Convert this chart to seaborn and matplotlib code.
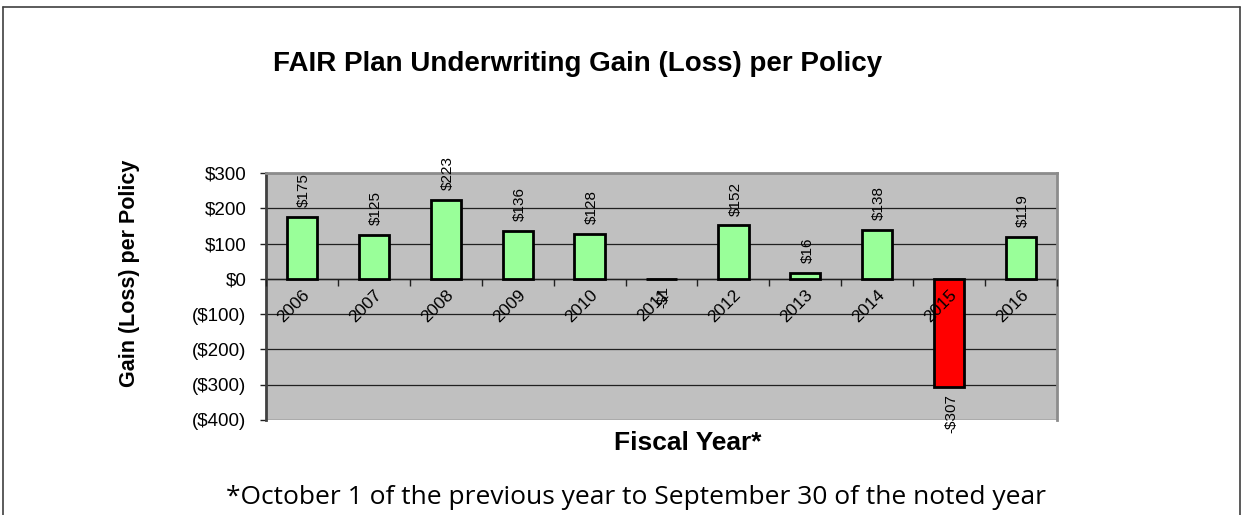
import matplotlib
matplotlib.use("Agg")
import matplotlib.pyplot as plt
from matplotlib.lines import Line2D
import seaborn as sns
import pandas as pd

years = ["2006", "2007", "2008", "2009", "2010", "2011", "2012", "2013", "2014", "2015", "2016"]
values = [175, 125, 223, 136, 128, -1, 152, 16, 138, -307, 119]
labels = ["$175", "$125", "$223", "$136", "$128", "-$1", "$152", "$16", "$138", "-$307", "$119"]
yticks = [300, 200, 100, 0, -100, -200, -300, -400]
ytick_labels = ["$300", "$200", "$100", "$0", "($100)", "($200)", "($300)", "($400)"]

sns.set_theme(style="white")
plt.rcParams['font.family'] = ['Liberation Sans', 'DejaVu Sans']
plt.rcParams['text.color'] = 'black'
plt.rcParams['xtick.color'] = 'black'
plt.rcParams['ytick.color'] = 'black'

df = pd.DataFrame({"year": years, "value": values})
pal = {y: ("#FF0000" if v < 0 else "#99FF99") for y, v in zip(years, values)}

fig = plt.figure(figsize=(12.44, 5.15), dpi=100)
ax = fig.add_axes([266/1244, 1-420/515, (1057-266)/1244, (420-173)/515])
ax.set_facecolor("#C0C0C0")

sns.barplot(data=df, x="year", y="value", hue="year", palette=pal, legend=False,
            saturation=1, width=0.42, edgecolor="black", linewidth=2, ax=ax, zorder=2)

ax.set_ylim(-400, 300)
ax.set_xlim(-0.5, len(years) - 0.5)
ax.set_yticks(yticks)
ax.set_yticklabels(ytick_labels, fontsize=13.5)
for y in yticks:
    ax.axhline(y, color="#202020", lw=0.9, zorder=1)

ax.spines['bottom'].set_position(('data', 0))
ax.spines['bottom'].set_color("#202020")
ax.spines['bottom'].set_linewidth(1)
ax.spines['bottom'].set_zorder(1.5)
ax.spines['left'].set_color("#404040")
ax.spines['left'].set_linewidth(2)
for s in ['top', 'right']:
    ax.spines[s].set_color("#8C8C8C")
    ax.spines[s].set_linewidth(2)

ax.tick_params(axis='y', length=4, width=1, color="#202020", pad=10, left=True)
ax.set_xticks([i + 0.5 for i in range(-1, len(years))], minor=True)
ax.tick_params(axis='x', which='minor', length=5, width=1, color="#202020", bottom=True)
ax.set_xticks(range(len(years)))
ax.tick_params(axis='x', which='major', length=0, pad=6, bottom=True)
ax.set_xticklabels(years, rotation=45, ha='right', rotation_mode='anchor', fontsize=12.5)
ax.xaxis.set_zorder(4)

ax.set_xlabel("")
ax.set_ylabel("")

for i, (v, lab) in enumerate(zip(values, labels)):
    if v >= 0:
        ax.annotate(lab, (i, v), xytext=(1.5, 7), textcoords="offset points",
                    rotation=90, ha='center', va='bottom', fontsize=11)
    else:
        ax.annotate(lab, (i, v), xytext=(1.5, -5), textcoords="offset points",
                    rotation=90, ha='center', va='top', fontsize=11, zorder=6)

fig.text(578/1244, 1-64/515, "FAIR Plan Underwriting Gain (Loss) per Policy",
         ha='center', va='center', fontsize=20, fontweight='bold')
fig.text(129/1244, 1-273/515, "Gain (Loss) per Policy", rotation=90,
         ha='center', va='center', fontsize=15.5, fontweight='bold')
fig.text(688/1244, 1-443/515, "Fiscal Year*", ha='center', va='center',
         fontsize=19, fontweight='bold')
fig.text(636/1244, 1-497/515, "*October 1 of the previous year to September 30 of the noted year",
         ha='center', va='center', fontsize=19, family=['Open Sans', 'DejaVu Sans'])

bc = "#404040"
fig.add_artist(Line2D([3/1244, 3/1244], [0, 1-7/515], transform=fig.transFigure, color=bc, lw=1.2))
fig.add_artist(Line2D([1240/1244, 1240/1244], [0, 1-7/515], transform=fig.transFigure, color=bc, lw=1.2))
fig.add_artist(Line2D([3/1244, 1240/1244], [1-7/515, 1-7/515], transform=fig.transFigure, color=bc, lw=1.2))

fig.savefig("out.png", dpi=100, facecolor="white")
